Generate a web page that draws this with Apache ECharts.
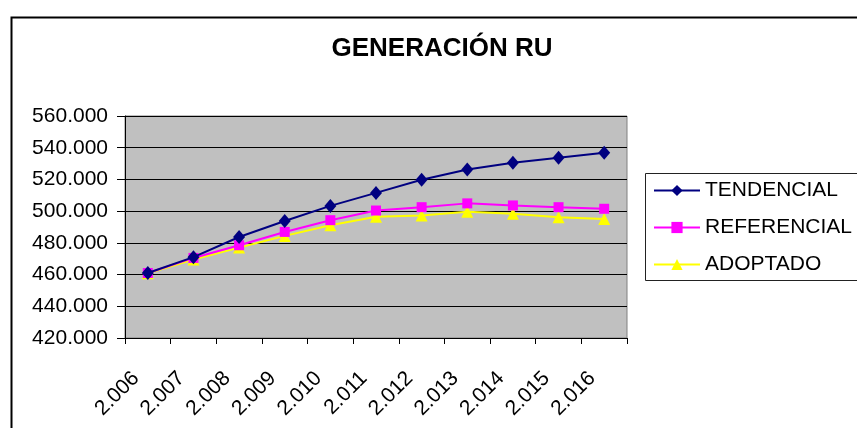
<!DOCTYPE html>
<html>
<head>
<meta charset="utf-8">
<script src="https://cdn.jsdelivr.net/npm/echarts@6/dist/echarts.min.js"></script>
<style>
html,body{margin:0;padding:0;background:#fff;}
#c{width:857px;height:428px;}
</style>
</head>
<body>
<div id="c"></div>
<script>
const categories = ["2.006","2.007","2.008","2.009","2.010","2.011","2.012","2.013","2.014","2.015","2.016"];
const tendencial = [461.0, 471.0, 483.7, 493.8, 503.3, 511.5, 519.8, 526.3, 530.5, 533.6, 536.8];
const referencial = [461.0, 470.5, 478.5, 486.9, 494.3, 500.4, 502.5, 504.9, 503.6, 502.5, 501.5];
const adoptado = [460.8, 469.5, 477.0, 484.4, 491.1, 496.4, 497.3, 499.6, 498.3, 496.2, 495.1];
const seriesNames = ["TENDENCIAL","REFERENCIAL","ADOPTADO"];
const titleText = "GENERACIÓN RU";

const FONT = '"Liberation Sans", Arial, sans-serif';
const chart = echarts.init(document.getElementById('c'), null, {renderer:'canvas'});
function fmt(v){ return v.toFixed(3); }

chart.setOption({
  animation:false,
  backgroundColor:'#ffffff',
  title:{
    text:titleText, left:437, top:31, textAlign:'center',
    textStyle:{fontFamily:FONT, fontSize:26, fontWeight:'bold', color:'#000'}
  },
  graphic:[
    {type:'rect', left:9, top:15, z:-10, shape:{width:900, height:500},
     style:{fill:null, stroke:'#000', lineWidth:2}},
    {type:'rect', left:645, top:173, z:-5, shape:{width:230, height:107},
     style:{fill:'#fff', stroke:'#222', lineWidth:1}}
  ],
  legend:{
    orient:'vertical', left:653, top:180, padding:0,
    itemWidth:46, itemHeight:14, itemGap:16,
    textStyle:{fontFamily:FONT, fontSize:21, color:'#000', lineHeight:20, padding:[0,0,0,0]},
    data:seriesNames
  },
  grid:{
    left:125, right:230, top:116, bottom:90,
    show:true, backgroundColor:'#c0c0c0', borderColor:'#808080', borderWidth:1
  },
  xAxis:{
    type:'category', data:categories, boundaryGap:true,
    axisLine:{lineStyle:{color:'#000', width:1}},
    axisTick:{show:true, length:6, alignWithLabel:false, lineStyle:{color:'#000'}},
    axisLabel:{rotate:45, margin:25, interval:0, padding:[0,17,0,0], fontFamily:FONT, fontSize:21, color:'#000'},
    splitLine:{show:false}
  },
  yAxis:{
    type:'value', min:420, max:560, interval:20,
    axisLine:{show:true, lineStyle:{color:'#000', width:1}},
    axisTick:{show:true, length:8, lineStyle:{color:'#000'}},
    axisLabel:{margin:17, formatter:fmt, fontFamily:FONT, fontSize:21, color:'#000'},
    splitLine:{show:true, lineStyle:{color:'#000', width:1}}
  },
  series:[
    {name:seriesNames[0], type:'line', data:tendencial, symbol:'diamond', symbolSize:[12,14],
     itemStyle:{color:'#000080'}, lineStyle:{color:'#000080', width:2}, z:5},
    {name:seriesNames[1], type:'line', data:referencial, symbol:'rect', symbolSize:10,
     itemStyle:{color:'#ff00ff'}, lineStyle:{color:'#ff00ff', width:2}, z:4},
    {name:seriesNames[2], type:'line', data:adoptado, symbol:'triangle', symbolSize:[12,12],
     itemStyle:{color:'#ffff00'}, lineStyle:{color:'#ffff00', width:2}, z:3}
  ]
});
</script>
</body>
</html>
